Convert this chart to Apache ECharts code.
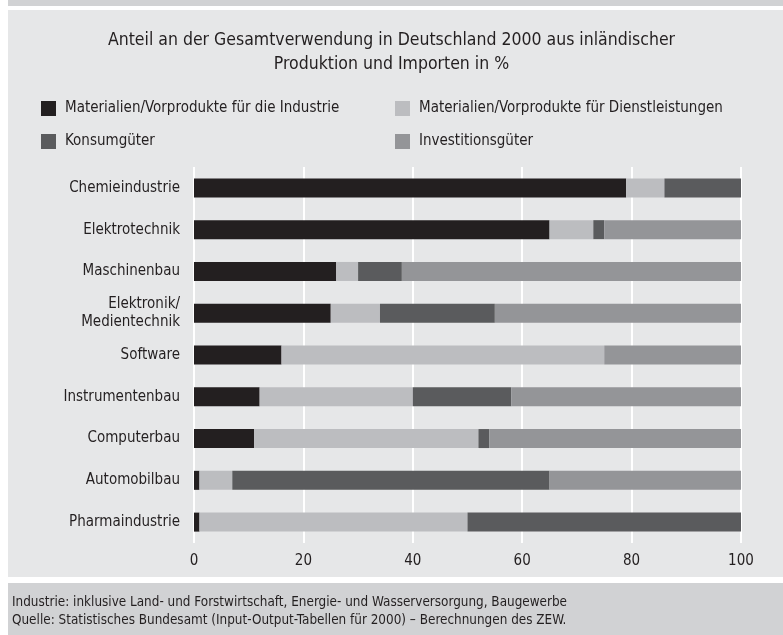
<!DOCTYPE html>
<html>
<head>
<meta charset="utf-8">
<script src="https://cdn.jsdelivr.net/npm/echarts@6/dist/echarts.min.js"></script>
<style>
  html, body { margin: 0; padding: 0; background: #ffffff; }
  #chart { width: 783px; height: 635px; }
</style>
</head>
<body>
<div id="chart"></div>
<script>
// data (percent of total use)
const categories = ['Chemieindustrie', 'Elektrotechnik', 'Maschinenbau', 'Elektronik/\nMedientechnik',
    'Software', 'Instrumentenbau', 'Computerbau', 'Automobilbau', 'Pharmaindustrie'];
const industrie = [79, 65, 26, 25, 16, 12, 11, 1, 1];
const dienstleistungen = [7, 8, 4, 9, 59, 28, 41, 6, 49];
const konsumgueter = [14, 2, 8, 21, 0, 18, 2, 58, 50];
const investitionsgueter = [0, 25, 62, 45, 25, 42, 46, 35, 0];
const seriesNames = ['Materialien/Vorprodukte für die Industrie', 'Materialien/Vorprodukte für Dienstleistungen',
    'Konsumgüter', 'Investitionsgüter'];
const xTicks = [0, 20, 40, 60, 80, 100];

const FONT = '"Liberation Sans Narrow", "DejaVu Sans Condensed", "Roboto", sans-serif';
const TEXT = '#231f20';
const colors = ['#231f20', '#bcbdc0', '#5a5b5d', '#949598'];

const chart = echarts.init(document.getElementById('chart'));

function legendAt(name, left, top) {
    return {
        data: [name],
        left: left,
        top: top,
        icon: 'rect',
        itemWidth: 15,
        itemHeight: 15,
        itemGap: 0,
        textStyle: { fontFamily: FONT, fontSize: 15, color: TEXT, padding: [0, 0, 0, 4] },
        selectedMode: false,
    };
}

const option = {
    animation: false,
    textStyle: { fontFamily: FONT },
    graphic: [
        { type: 'rect', z: -10, shape: { x: 8, y: 0, width: 775, height: 6 }, style: { fill: '#d1d2d4' } },
        { type: 'rect', z: -10, shape: { x: 8, y: 10, width: 775, height: 567 }, style: { fill: '#e6e7e8' } },
        { type: 'rect', z: -10, shape: { x: 8, y: 583, width: 775, height: 52 }, style: { fill: '#d1d2d4' } },
        {
            type: 'text', left: 12, top: 594,
            style: {
                text: 'Industrie: inklusive Land- und Forstwirtschaft, Energie- und Wasserversorgung, Baugewerbe\n' +
                    'Quelle: Statistisches Bundesamt (Input-Output-Tabellen für 2000) – Berechnungen des ZEW.',
                font: '13.4px ' + FONT, fill: TEXT, lineHeight: 18,
            },
        },
    ],
    title: {
        text: 'Anteil an der Gesamtverwendung in Deutschland 2000 aus inländischer\nProduktion und Importen in %',
        left: 'center',
        top: 23,
        textStyle: { fontFamily: FONT, fontSize: 17.5, fontWeight: 'normal', color: TEXT, lineHeight: 24 },
    },
    legend: [
        legendAt(seriesNames[0], 36, 96),
        legendAt(seriesNames[1], 390, 96),
        legendAt(seriesNames[2], 36, 129),
        legendAt(seriesNames[3], 390, 129),
    ],
    grid: { left: 194, right: 42, top: 167, bottom: 92 },
    xAxis: {
        type: 'value',
        min: 0,
        max: 100,
        interval: 20,
        axisLine: { show: false },
        axisTick: { show: false },
        axisLabel: {
            fontFamily: FONT, fontSize: 15, color: TEXT, margin: 11,
            formatter: v => xTicks.includes(v) ? String(v) : '',
        },
        splitLine: { show: true, lineStyle: { color: '#ffffff', width: 2 } },
    },
    yAxis: {
        type: 'category',
        data: categories,
        inverse: true,
        axisLine: { show: false },
        axisTick: { show: false },
        axisLabel: { fontFamily: FONT, fontSize: 15, color: TEXT, margin: 14, lineHeight: 18 },
    },
    series: [industrie, dienstleistungen, konsumgueter, investitionsgueter].map((d, i) => ({
        name: seriesNames[i],
        type: 'bar',
        stack: 'total',
        barWidth: 19,
        data: d,
        itemStyle: { color: colors[i] },
    })),
};
chart.setOption(option);
</script>
</body>
</html>
